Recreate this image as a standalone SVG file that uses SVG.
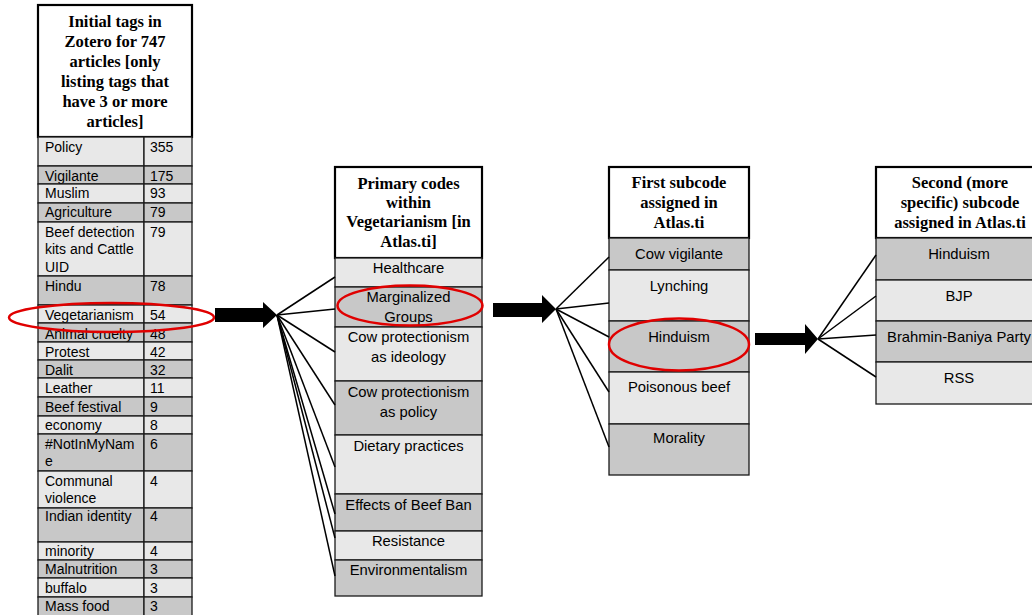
<svg xmlns="http://www.w3.org/2000/svg" width="1032" height="615" viewBox="0 0 1032 615">
<style>
.hd{fill:#fff;stroke:#000;stroke-width:2.2}
.lt{fill:#e8e8e8;stroke:#1a1a1a;stroke-width:1.3}
.dk{fill:#c8c8c8;stroke:#1a1a1a;stroke-width:1.3}
.ht{font-family:"Liberation Serif","Times New Roman",serif;font-weight:bold;font-size:16.5px;fill:#000;text-anchor:middle}
.tt{font-family:"Liberation Sans",Arial,sans-serif;font-size:14px;fill:#000}
.ct{font-family:"Liberation Sans",Arial,sans-serif;font-size:14.8px;fill:#000;text-anchor:middle}
.ring{fill:none;stroke:#e00000;stroke-width:2.5}
.fan line{stroke:#000;stroke-width:1.5}
.blk{fill:#000}
</style>
<rect width="1032" height="615" fill="#fff"/>

<g id="zotero-tags">
  <rect class="hd" x="38" y="5" width="154" height="132"/>
  <text class="ht" x="115" y="27">Initial tags in</text>
  <text class="ht" x="115" y="47">Zotero for 747</text>
  <text class="ht" x="115" y="67">articles [only</text>
  <text class="ht" x="115" y="87">listing tags that</text>
  <text class="ht" x="115" y="107">have 3 or more</text>
  <text class="ht" x="115" y="127">articles]</text>
  <g id="tag-rows">
    <rect class="lt" x="38" y="137" width="106" height="29"/><rect class="lt" x="144" y="137" width="48" height="29"/>
    <text class="tt" x="45" y="152">Policy</text><text class="tt" x="150" y="152">355</text>
    <rect class="dk" x="38" y="166" width="106" height="18"/><rect class="dk" x="144" y="166" width="48" height="18"/>
    <text class="tt" x="45" y="181">Vigilante</text><text class="tt" x="150" y="181">175</text>
    <rect class="lt" x="38" y="184" width="106" height="19"/><rect class="lt" x="144" y="184" width="48" height="19"/>
    <text class="tt" x="45" y="198">Muslim</text><text class="tt" x="150" y="198">93</text>
    <rect class="dk" x="38" y="203" width="106" height="19"/><rect class="dk" x="144" y="203" width="48" height="19"/>
    <text class="tt" x="45" y="217">Agriculture</text><text class="tt" x="150" y="217">79</text>
    <rect class="lt" x="38" y="222" width="106" height="54"/><rect class="lt" x="144" y="222" width="48" height="54"/>
    <text class="tt" x="45" y="236.5">Beef detection</text><text class="tt" x="45" y="254">kits and Cattle</text><text class="tt" x="45" y="271.5">UID</text><text class="tt" x="150" y="236.5">79</text>
    <rect class="dk" x="38" y="276" width="106" height="29"/><rect class="dk" x="144" y="276" width="48" height="29"/>
    <text class="tt" x="45" y="290.5">Hindu</text><text class="tt" x="150" y="290.5">78</text>
    <rect class="lt" x="38" y="305" width="106" height="18"/><rect class="lt" x="144" y="305" width="48" height="18"/>
    <text class="tt" x="45" y="320">Vegetarianism</text><text class="tt" x="150" y="320">54</text>
    <rect class="dk" x="38" y="323" width="106" height="19"/><rect class="dk" x="144" y="323" width="48" height="19"/>
    <text class="tt" x="45" y="338.5">Animal cruelty</text><text class="tt" x="150" y="338.5">48</text>
    <rect class="lt" x="38" y="342" width="106" height="18"/><rect class="lt" x="144" y="342" width="48" height="18"/>
    <text class="tt" x="45" y="356.5">Protest</text><text class="tt" x="150" y="356.5">42</text>
    <rect class="dk" x="38" y="360" width="106" height="18"/><rect class="dk" x="144" y="360" width="48" height="18"/>
    <text class="tt" x="45" y="374.5">Dalit</text><text class="tt" x="150" y="374.5">32</text>
    <rect class="lt" x="38" y="378" width="106" height="19"/><rect class="lt" x="144" y="378" width="48" height="19"/>
    <text class="tt" x="45" y="393">Leather</text><text class="tt" x="150" y="393">11</text>
    <rect class="dk" x="38" y="397" width="106" height="19"/><rect class="dk" x="144" y="397" width="48" height="19"/>
    <text class="tt" x="45" y="411.5">Beef festival</text><text class="tt" x="150" y="411.5">9</text>
    <rect class="lt" x="38" y="416" width="106" height="18"/><rect class="lt" x="144" y="416" width="48" height="18"/>
    <text class="tt" x="45" y="429.5">economy</text><text class="tt" x="150" y="429.5">8</text>
    <rect class="dk" x="38" y="434" width="106" height="37"/><rect class="dk" x="144" y="434" width="48" height="37"/>
    <text class="tt" x="45" y="448.5">#NotInMyNam</text><text class="tt" x="45" y="466">e</text><text class="tt" x="150" y="448.5">6</text>
    <rect class="lt" x="38" y="471" width="106" height="37"/><rect class="lt" x="144" y="471" width="48" height="37"/>
    <text class="tt" x="45" y="485.5">Communal</text><text class="tt" x="45" y="503">violence</text><text class="tt" x="150" y="485.5">4</text>
    <rect class="dk" x="38" y="508" width="106" height="34"/><rect class="dk" x="144" y="508" width="48" height="34"/>
    <text class="tt" x="45" y="521">Indian identity</text><text class="tt" x="150" y="521">4</text>
    <rect class="lt" x="38" y="542" width="106" height="18"/><rect class="lt" x="144" y="542" width="48" height="18"/>
    <text class="tt" x="45" y="555.5">minority</text><text class="tt" x="150" y="555.5">4</text>
    <rect class="dk" x="38" y="560" width="106" height="18"/><rect class="dk" x="144" y="560" width="48" height="18"/>
    <text class="tt" x="45" y="574">Malnutrition</text><text class="tt" x="150" y="574">3</text>
    <rect class="lt" x="38" y="578" width="106" height="19"/><rect class="lt" x="144" y="578" width="48" height="19"/>
    <text class="tt" x="45" y="592.5">buffalo</text><text class="tt" x="150" y="592.5">3</text>
    <rect class="dk" x="38" y="597" width="106" height="24"/><rect class="dk" x="144" y="597" width="48" height="24"/>
    <text class="tt" x="45" y="610.5">Mass food</text><text class="tt" x="150" y="610.5">3</text>
  </g>
  <ellipse class="ring" cx="111.5" cy="317.5" rx="102.5" ry="14.5"/>
</g>

<g id="primary-codes">
  <rect class="hd" x="335" y="167" width="147" height="91"/>
  <text class="ht" x="408.5" y="188.5">Primary codes</text>
  <text class="ht" x="408.5" y="207.5">within</text>
  <text class="ht" x="408.5" y="227">Vegetarianism [in</text>
  <text class="ht" x="408.5" y="247">Atlas.ti]</text>
  <rect class="lt" x="335" y="258" width="147" height="29"/><text class="ct" x="408.5" y="273">Healthcare</text>
  <rect class="dk" x="335" y="287" width="147" height="40"/><text class="ct" x="408.5" y="302">Marginalized</text><text class="ct" x="408.5" y="321.5">Groups</text>
  <rect class="lt" x="335" y="327" width="147" height="54"/><text class="ct" x="408.5" y="342">Cow protectionism</text><text class="ct" x="408.5" y="362">as ideology</text>
  <rect class="dk" x="335" y="381" width="147" height="54"/><text class="ct" x="408.5" y="397">Cow protectionism</text><text class="ct" x="408.5" y="416.5">as policy</text>
  <rect class="lt" x="335" y="435" width="147" height="59"/><text class="ct" x="408.5" y="451">Dietary practices</text>
  <rect class="dk" x="335" y="494" width="147" height="37"/><text class="ct" x="408.5" y="509.5">Effects of Beef Ban</text>
  <rect class="lt" x="335" y="531" width="147" height="29"/><text class="ct" x="408.5" y="546">Resistance</text>
  <rect class="dk" x="335" y="560" width="147" height="36"/><text class="ct" x="408.5" y="574.5">Environmentalism</text>
  <ellipse class="ring" cx="410" cy="305.5" rx="72.5" ry="20"/>
</g>

<g id="first-subcode">
  <rect class="hd" x="609" y="167" width="140" height="71"/>
  <text class="ht" x="679" y="187.5">First subcode</text>
  <text class="ht" x="679" y="207.5">assigned in</text>
  <text class="ht" x="679" y="227.5">Atlas.ti</text>
  <rect class="dk" x="609" y="238" width="140" height="32"/><text class="ct" x="679" y="259">Cow vigilante</text>
  <rect class="lt" x="609" y="270" width="140" height="51"/><text class="ct" x="679" y="291">Lynching</text>
  <rect class="dk" x="609" y="321" width="140" height="51"/><text class="ct" x="679" y="342">Hinduism</text>
  <rect class="lt" x="609" y="372" width="140" height="52"/><text class="ct" x="679" y="392">Poisonous beef</text>
  <rect class="dk" x="609" y="424" width="140" height="51"/><text class="ct" x="679" y="443">Morality</text>
  <ellipse class="ring" cx="679" cy="344.5" rx="70" ry="26"/>
</g>

<g id="second-subcode">
  <rect class="hd" x="876" y="167" width="168" height="71"/>
  <text class="ht" x="960" y="187.5">Second (more</text>
  <text class="ht" x="960" y="207.5">specific) subcode</text>
  <text class="ht" x="960" y="227.5">assigned in Atlas.ti</text>
  <rect class="dk" x="876" y="238" width="168" height="42"/><text class="ct" x="959" y="259">Hinduism</text>
  <rect class="lt" x="876" y="280" width="168" height="41"/><text class="ct" x="959" y="301">BJP</text>
  <rect class="dk" x="876" y="321" width="168" height="41"/><text class="ct" x="959" y="342">Brahmin-Baniya Party</text>
  <rect class="lt" x="876" y="362" width="168" height="42"/><text class="ct" x="959" y="383">RSS</text>
</g>

<g id="connectors">
  <polygon class="blk" points="215,308 263,308 263,302 277,315 263,328 263,322 215,322"/>
  <polygon class="blk" points="493,303 542,303 542,295 556,309 542,323 542,317 493,317"/>
  <polygon class="blk" points="755,333 805,333 805,324 818,339 805,354 805,345 755,345"/>
  <g class="fan">
    <line x1="277" y1="315" x2="335" y2="277"/>
    <line x1="277" y1="315" x2="335" y2="309"/>
    <line x1="277" y1="315" x2="335" y2="352"/>
    <line x1="277" y1="315" x2="335" y2="405"/>
    <line x1="277" y1="315" x2="335" y2="467"/>
    <line x1="277" y1="315" x2="335" y2="514"/>
    <line x1="277" y1="315" x2="335" y2="538"/>
    <line x1="277" y1="315" x2="335" y2="576"/>
    <line x1="556" y1="309" x2="609" y2="257"/>
    <line x1="556" y1="309" x2="609" y2="303"/>
    <line x1="556" y1="309" x2="609" y2="337"/>
    <line x1="556" y1="309" x2="609" y2="392"/>
    <line x1="556" y1="309" x2="609" y2="447"/>
    <line x1="818" y1="339" x2="876" y2="255"/>
    <line x1="818" y1="339" x2="876" y2="296"/>
    <line x1="818" y1="339" x2="876" y2="335"/>
    <line x1="818" y1="339" x2="876" y2="377"/>
  </g>
</g>
</svg>
